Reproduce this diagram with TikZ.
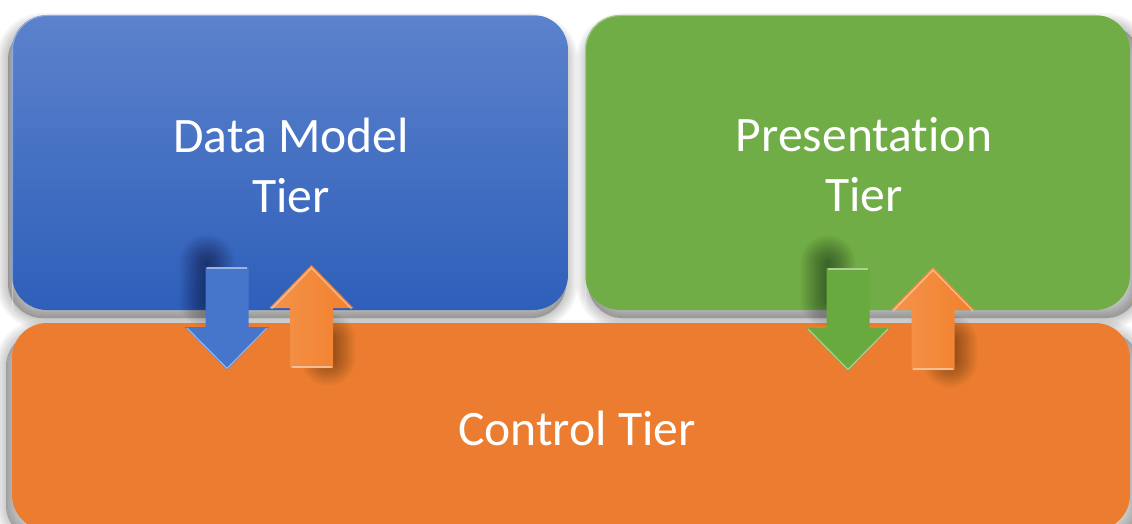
\documentclass[tikz,border=0pt]{standalone}
\usepackage{fontspec}
\setmainfont[Ligatures=NoCommon]{Carlito}
\definecolor{tierblueTop}{RGB}{92,130,204}
\definecolor{tierblueBot}{RGB}{46,95,186}
\definecolor{tiergreen}{RGB}{112,173,71}
\definecolor{tierorange}{RGB}{236,125,48}
\definecolor{arrowblue}{RGB}{70,118,204}
\definecolor{arrowgreen}{RGB}{104,170,62}
\definecolor{arroworange}{RGB}{242,128,44}
\tikzset{
  tierbox/.style={rounded corners=35pt, inner sep=0pt},
  tiertext/.style={text=white, font=\fontsize{49.6}{60}\selectfont, align=center},
  bevel/.style={draw=white, draw opacity=0.45, line width=1.2pt, line join=miter},
}
% soft shadow: the same outline stacked with growing stroke widths
\newcommand\softshadow[4]{% #1 colour, #2 opacity per layer, #3 widest stroke, #4 path
  \foreach \w in {#3,...,0}{
    \fill[#1, opacity=#2] [draw=#1, line width=\w pt, line join=round] #4;
  }}
% blurred blob: round-capped strokes of growing width along a segment
\newcommand\blurblob[3]{% #1 opacity per layer, #2 start, #3 end
  \foreach \w in {2,4,...,56}{
    \draw[black, opacity=#1, line width=\w pt, line cap=round] #2 -- #3;
  }}
% block arrow outline, pointing down from the local origin
\newcommand\arrowoutline{(-21.5,0) -- (21.5,0) -- (21.5,60) -- (42,60) -- (0,103) -- (-42,60) -- (-21.5,60) -- cycle}
\begin{document}
\begin{tikzpicture}[x=1pt,y=-1pt]
\useasboundingbox (0,0) rectangle (1132,524);
\clip (0,0) rectangle (1132,524);
\fill[white] (0,0) rectangle (1132,524);

% shadows of the three tiers
\softshadow{black}{0.035}{24,20}{[rounded corners=35pt] (8,25) rectangle (566,318)}
\softshadow{black}{0.035}{24,20}{[rounded corners=35pt] (588,25) rectangle (1140,318)}
\softshadow{black}{0.03}{24,20}{[rounded corners=35pt] (6,332) rectangle (1140,540)}

% tiers
\node[tierbox, minimum width=1118pt, minimum height=207pt, fill=tierorange]
  (ctl) at (571,426.5) {};
\node[tierbox, minimum width=556pt, minimum height=295pt,
  top color=tierblueTop, bottom color=tierblueBot] (dm) at (290,162.5) {};
\node[tierbox, minimum width=545pt, minimum height=295pt, fill=tiergreen]
  (pres) at (857.5,162.5) {};
\draw[white, opacity=0.35, line width=1pt, rounded corners=35pt]
  (12.5,310) -- (12.5,15.5) -- (567.5,15.5);
\draw[white, opacity=0.35, line width=1pt, rounded corners=35pt]
  (585.5,310) -- (585.5,15.5) -- (1130,15.5);

\node[tiertext] (dmt) at (291,165) {Data Model\\Tier};
\node[tiertext] (prt) at (864,165) {Presentation\\Tier};
\node[tiertext] (ctt) at (577,428) {Control Tier};

% arrow shadows, soft and offset
\blurblob{0.014}{(207,262)}{(207,300)}
\blurblob{0.014}{(828,263)}{(828,300)}
\blurblob{0.014}{(328,340)}{(328,358)}
\blurblob{0.014}{(950,342)}{(950,360)}

% block arrows between the tiers
\begin{scope}[shift={(227,267)}]
  \fill[arrowblue] \arrowoutline;
  \draw[bevel] (-20,1) -- (20,1);
  \draw[bevel] (-40,61) -- (0,101.5) -- (40,61);
\end{scope}
\begin{scope}[shift={(848,268)}]
  \fill[arrowgreen] \arrowoutline;
  \draw[bevel] (-20,1) -- (20,1);
  \draw[bevel] (-40,61) -- (0,101.5) -- (40,61);
\end{scope}
\begin{scope}[shift={(311.5,368)}, yscale=-1]
  \shade[left color=arroworange!85!white, right color=arroworange] \arrowoutline;
  \draw[bevel] (-20,1) -- (20,1);
  \draw[bevel] (-40,59) -- (0,100) -- (40,59);
\end{scope}
\begin{scope}[shift={(933,370)}, yscale=-1]
  \shade[left color=arroworange!85!white, right color=arroworange] \arrowoutline;
  \draw[bevel] (-20,1) -- (20,1);
  \draw[bevel] (-40,59) -- (0,100) -- (40,59);
\end{scope}
\end{tikzpicture}
\end{document}
